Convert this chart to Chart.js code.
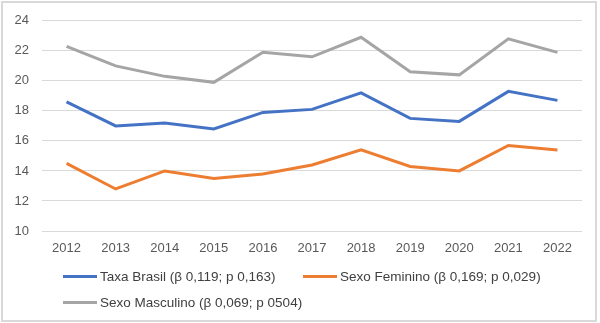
<!DOCTYPE html>
<html>
<head>
<meta charset="utf-8">
<script src="https://cdn.jsdelivr.net/npm/chart.js@4"></script>
<style>
  html, body { margin: 0; padding: 0; background: #fff; }
  #wrap { position: relative; width: 600px; height: 323px; }
  #frame { position: absolute; left: 1px; top: 1px; width: 592px; height: 317px;
           border: 2px solid #d9d9d9; pointer-events: none; }
  canvas { position: absolute; left: 0; top: 0; }
  .leg { position: absolute; font-family: "Liberation Sans", Arial, sans-serif;
         font-size: 13.5px; color: #404040; white-space: nowrap; line-height: 16px; }
  .leg i { display: inline-block; width: 34px; height: 3px; vertical-align: middle;
           margin-right: 3px; position: relative; top: -1px; }
</style>
</head>
<body>
<div id="wrap">
  <canvas id="c" width="600" height="323"></canvas>
  <div id="legend"></div>
  <div id="frame"></div>
</div>
<script>
const years = ['2012','2013','2014','2015','2016','2017','2018','2019','2020','2021','2022'];
const taxaBrasil    = [18.6, 17.0, 17.2, 16.8, 17.9, 18.1, 19.2, 17.5, 17.3, 19.3, 18.7];
const sexoFeminino  = [14.5, 12.8, 14.0, 13.5, 13.8, 14.4, 15.4, 14.3, 14.0, 15.7, 15.4];
const sexoMasculino = [22.3, 21.0, 20.3, 19.9, 21.9, 21.6, 22.9, 20.6, 20.4, 22.8, 21.9];
const seriesNames = [
  'Taxa Brasil (β 0,119; p 0,163)',
  'Sexo Feminino (β 0,169; p 0,029)',
  'Sexo Masculino (β 0,069; p 0504)'
];
const seriesColors = ['#4472C4', '#ED7D31', '#A5A5A5'];
const yTicks = { min: 10, max: 24, step: 2 };

const tickFont = { family: '"Liberation Sans", Arial, sans-serif', size: 13 };

const datasets = [taxaBrasil, sexoFeminino, sexoMasculino].map((d, i) => ({
  label: seriesNames[i],
  data: d,
  borderColor: seriesColors[i],
  backgroundColor: seriesColors[i],
  borderWidth: 3,
  pointRadius: 0,
  tension: 0,
  fill: false
}));

new Chart(document.getElementById('c'), {
  type: 'line',
  data: { labels: years, datasets },
  options: {
    responsive: false,
    animation: false,
    layout: { padding: { left: 0, top: 17, right: 18, bottom: 0 } },
    plugins: { legend: { display: false }, tooltip: { enabled: false } },
    scales: {
      x: {
        offset: true,
        grid: { display: false, drawTicks: false },
        border: { display: false },
        ticks: { color: '#595959', font: tickFont, padding: 10, maxRotation: 0 },
        afterFit: s => { s.height = 92; }
      },
      y: {
        min: yTicks.min, max: yTicks.max,
        grid: { color: '#d9d9d9', lineWidth: 1, drawTicks: false },
        border: { display: false },
        ticks: { stepSize: yTicks.step, color: '#595959', font: tickFont, padding: 13 },
        afterFit: s => { s.width = 42; }
      }
    }
  }
});

// legend in two columns below the plot
const legPos = [[63, 269], [303, 269], [63, 295]];
const legend = document.getElementById('legend');
seriesNames.forEach((name, i) => {
  const el = document.createElement('div');
  el.className = 'leg';
  el.style.left = legPos[i][0] + 'px';
  el.style.top = legPos[i][1] + 'px';
  el.innerHTML = '<i style="background:' + seriesColors[i] + '"></i>';
  el.appendChild(document.createTextNode(name));
  legend.appendChild(el);
});
</script>
</body>
</html>
